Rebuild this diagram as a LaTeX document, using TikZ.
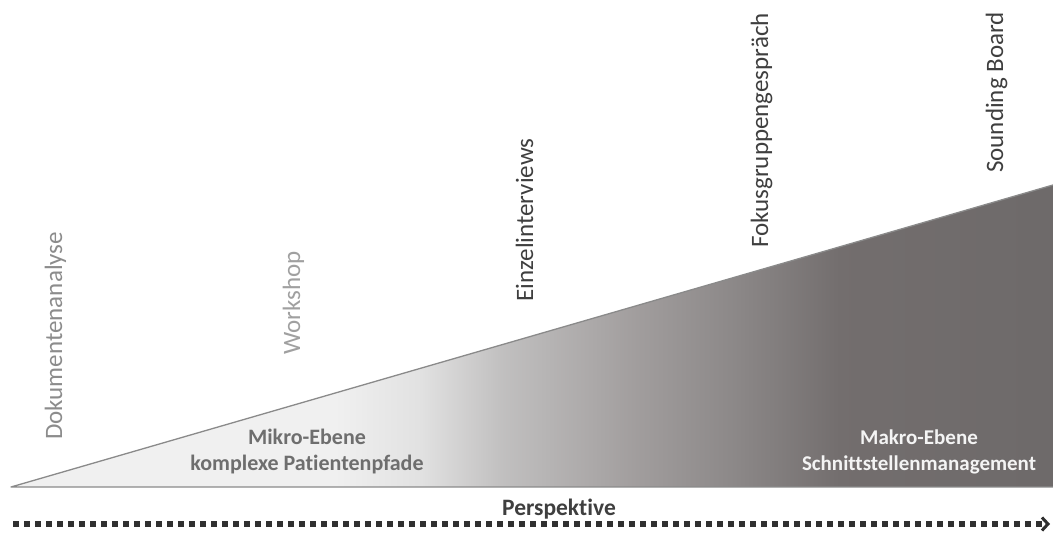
\documentclass[tikz,border=0pt]{standalone}
\usepackage{fontspec}
\setmainfont{Carlito}[Ligatures={NoCommon}]
\usetikzlibrary{arrows.meta}
\definecolor{labdok}{HTML}{8C8C8C}
\definecolor{labwork}{HTML}{A0A0A0}
\definecolor{labdark}{HTML}{3F3F3F}
\definecolor{mikrocol}{HTML}{6E6E6E}
\definecolor{makrocol}{HTML}{F4F4F4}
\definecolor{edgecol}{HTML}{8A8A8A}
\definecolor{dotcol}{HTML}{303030}
\pgfdeclarehorizontalshading{trishade}{100bp}{%
  rgb(0bp)=(0.94,0.94,0.94);
  rgb(40.6bp)=(0.94,0.94,0.94);
  rgb(44.6bp)=(0.885,0.885,0.885);
  rgb(48.6bp)=(0.755,0.75,0.75);
  rgb(55.1bp)=(0.63,0.615,0.615);
  rgb(59.9bp)=(0.545,0.53,0.53);
  rgb(64.8bp)=(0.45,0.43,0.43);
  rgb(75bp)=(0.43,0.415,0.415);
  rgb(100bp)=(0.43,0.415,0.415)}
\tikzset{
  vlabel/.style={rotate=90, anchor=base west, inner sep=0pt, font=\fontsize{25}{30}\selectfont},
  lvl/.style={align=center, inner sep=0pt, font=\bfseries\fontsize{22}{26}\selectfont},
  edge/.style={draw=edgecol, line width=1.3pt, line join=round},
  dotline/.style={draw=dotcol, line width=5.5pt, dash pattern=on 6pt off 5pt,
    -{Straight Barb[length=6pt,width=13pt,line width=3pt]}}
}
\begin{document}
\begin{tikzpicture}[x=1pt,y=-1pt]
\useasboundingbox (0,0) rectangle (1053,534);
\fill[white] (0,0) rectangle (1053,534);
\coordinate (t1) at (11,487);
\coordinate (t2) at (1053,487);
\coordinate (t3) at (1053,185);
\shade[shading=trishade] (t1) -- (t2) -- (t3) -- cycle;
\draw[edge] (t3) -- (t1) -- (t2);
\node[vlabel, text=labdok] (dok) at (62,440) {Dokumentenanalyse};
\node[vlabel, text=labwork] (work) at (300,355) {Workshop};
\node[vlabel, text=labdark] (einz) at (533,302) {Einzelinterviews};
\node[vlabel, text=labdark] (foku) at (768,248) {Fokusgruppengespräch};
\node[vlabel, text=labdark] (sound) at (1003,173) {Sounding Board};
\node[lvl, text=mikrocol] (mikro) at (307,452) {Mikro-Ebene\\komplexe Patientenpfade};
\node[lvl, text=makrocol, font=\bfseries\fontsize{21}{26}\selectfont] (makro) at (919,452) {Makro-Ebene\\Schnittstellenmanagement};
\node[anchor=base, inner sep=0pt, text=labdark, font=\bfseries\fontsize{23.5}{28}\selectfont] (persp) at (559,516) {Perspektive};
\coordinate (as) at (13,524);
\coordinate (ae) at (1050,524);
\draw[dotline] (as) -- (ae);
\end{tikzpicture}
\end{document}
